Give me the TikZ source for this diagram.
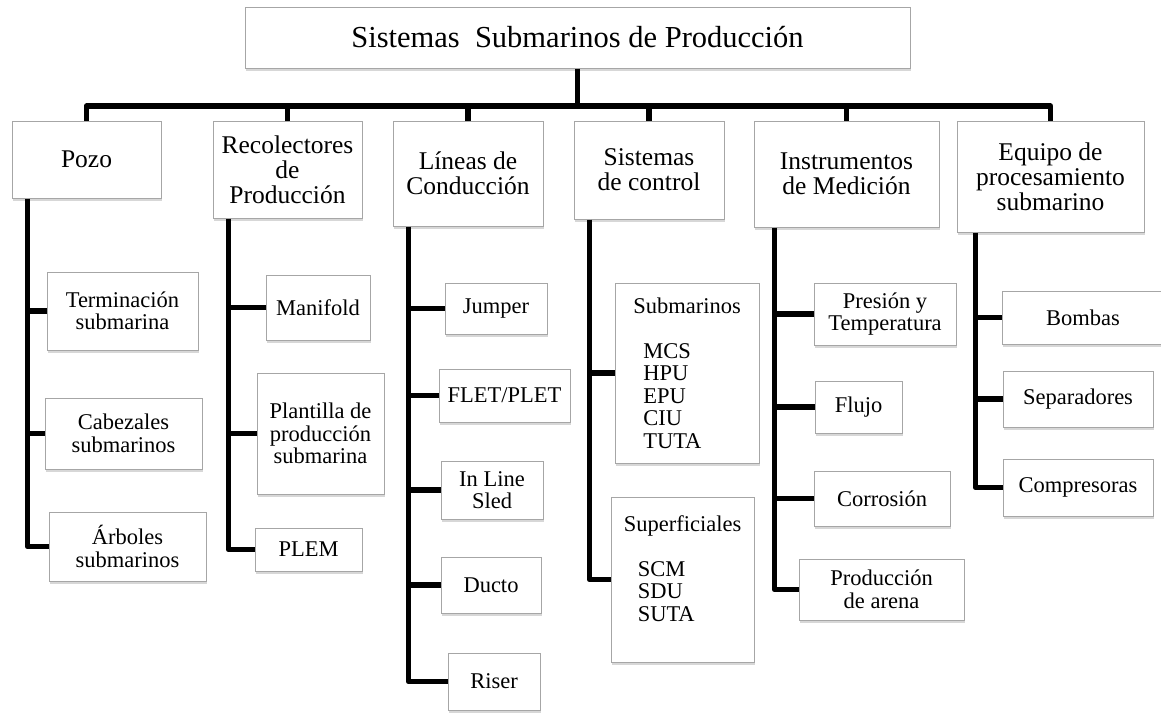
\documentclass[tikz,border=0pt]{standalone}
\usepackage{fontspec}
\setmainfont{Liberation Serif}
\usetikzlibrary{shadows}

\begin{document}
\begin{tikzpicture}[x=1pt,y=-1pt,
  box/.style={draw=black!35,line width=1pt,fill=white,align=center,inner sep=2pt,
    drop shadow={shadow xshift=1pt,shadow yshift=-3pt,fill=black!45,opacity=0.35}},
  wh/.style 2 args={minimum width=#1pt,minimum height=#2pt},
  top/.style={box,font=\fontsize{30.5}{32}\selectfont},
  cat/.style={box,font=\fontsize{25.5}{25}\selectfont},
  item/.style={box,font=\fontsize{22.5}{22.5}\selectfont},
  conn/.style={line width=5.5pt,line join=round}]
  \useasboundingbox (0,0) rectangle (1161,712);

  % root and first level
  \node[top,wh={665}{61}] (title) at (577.5,37.5) {Sistemas~~Submarinos de Producción};
  \node[cat,wh={149}{77}] (pozo) at (86.5,159.5) {Pozo};
  \node[cat,wh={149}{97}] (recol) at (287.5,169.5) {Recolectores\\de\\Producción};
  \node[cat,wh={150}{105}] (lineas) at (468,173.5) {Líneas de\\Conducción};
  \node[cat,wh={150}{98}] (sistemas) at (649,170) {Sistemas\\de control};
  \node[cat,wh={185}{106}] (instr) at (846.5,174) {Instrumentos\\de Medición};
  \node[cat,wh={187}{111}] (equipo) at (1050.5,176.5) {Equipo de\\procesamiento\\submarino};

  % second level
  \node[item,wh={151}{78}] (termin) at (122.5,311) {Terminación\\submarina};
  \node[item,wh={157}{71}] (cabez) at (123.5,433.5) {Cabezales\\submarinos};
  \node[item,wh={157}{69}] (arbol) at (127.5,546.5) {Árboles\\submarinos};
  \node[item,wh={104}{65}] (manif) at (318,307.5) {Manifold};
  \node[item,wh={127}{121}] (plant) at (320.5,433.5) {Plantilla de\\producción\\submarina};
  \node[item,wh={107}{43}] (plem) at (308.5,549.5) {PLEM};
  \node[item,wh={102}{51}] (jumper) at (496,308.5) {Jumper};
  \node[item,wh={131}{53}] (flet) at (504.5,395.5) {FLET/PLET};
  \node[item,wh={102}{58}] (sled) at (492,490) {In Line\\Sled};
  \node[item,wh={100}{56}] (ducto) at (491,585) {Ducto};
  \node[item,wh={92}{57}] (riser) at (494,681.5) {Riser};
  \node[item,wh={144}{180},align=left] (subm) at (687,373)
    {Submarinos\\ \mbox{}\\ \hspace*{10pt}MCS\\ \hspace*{10pt}HPU\\ \hspace*{10pt}EPU\\ \hspace*{10pt}CIU\\ \hspace*{10pt}TUTA};
  \node[item,wh={143}{165},align=left] (superf) at (682.5,579.5)
    {Superficiales\\ \mbox{}\\ \hspace*{14pt}SCM\\ \hspace*{14pt}SDU\\ \hspace*{14pt}SUTA\\ \mbox{}};
  \node[item,wh={142}{62}] (presion) at (885,314) {Presión y\\Temperatura};
  \node[item,wh={87}{52}] (flujo) at (858.5,407) {Flujo};
  \node[item,wh={136}{55}] (corros) at (882,498.5) {Corrosión};
  \node[item,wh={165}{61}] (arena) at (881.5,589.5) {Producción\\de arena};
  \node[item,wh={162}{53}] (bombas) at (1083,317.5) {Bombas};
  \node[item,wh={150}{56}] (separ) at (1078,399) {Separadores};
  \node[item,wh={150}{57}] (compr) at (1078,487.5) {Compresoras};

  % connectors
  \coordinate (bar) at (577.5,106);
  \draw[conn] (title) -- (title |- bar);
  \draw[conn] (pozo.north) -- (pozo.north |- bar) -- (equipo.north |- bar) -- (equipo.north);
  \foreach \n in {recol,lineas,sistemas,instr}
    \draw[conn] (\n.north) -- (\n.north |- bar);
  \foreach \p/\s/\last in {pozo/16pt/arbol,recol/16pt/plem,lineas/16pt/riser,
      sistemas/16pt/superf,instr/21pt/arena,equipo/19pt/compr}{
    \coordinate (\p-t) at ([xshift=\s]\p.south west);
    \draw[conn] (\p-t) |- (\last.west);
  }
  \foreach \p/\c in {pozo/termin,pozo/cabez,recol/manif,recol/plant,lineas/jumper,
      lineas/flet,lineas/sled,lineas/ducto,sistemas/subm,instr/presion,instr/flujo,
      instr/corros,equipo/bombas,equipo/separ}
    \draw[conn] (\p-t |- \c.west) -- (\c.west);
\end{tikzpicture}
\end{document}
